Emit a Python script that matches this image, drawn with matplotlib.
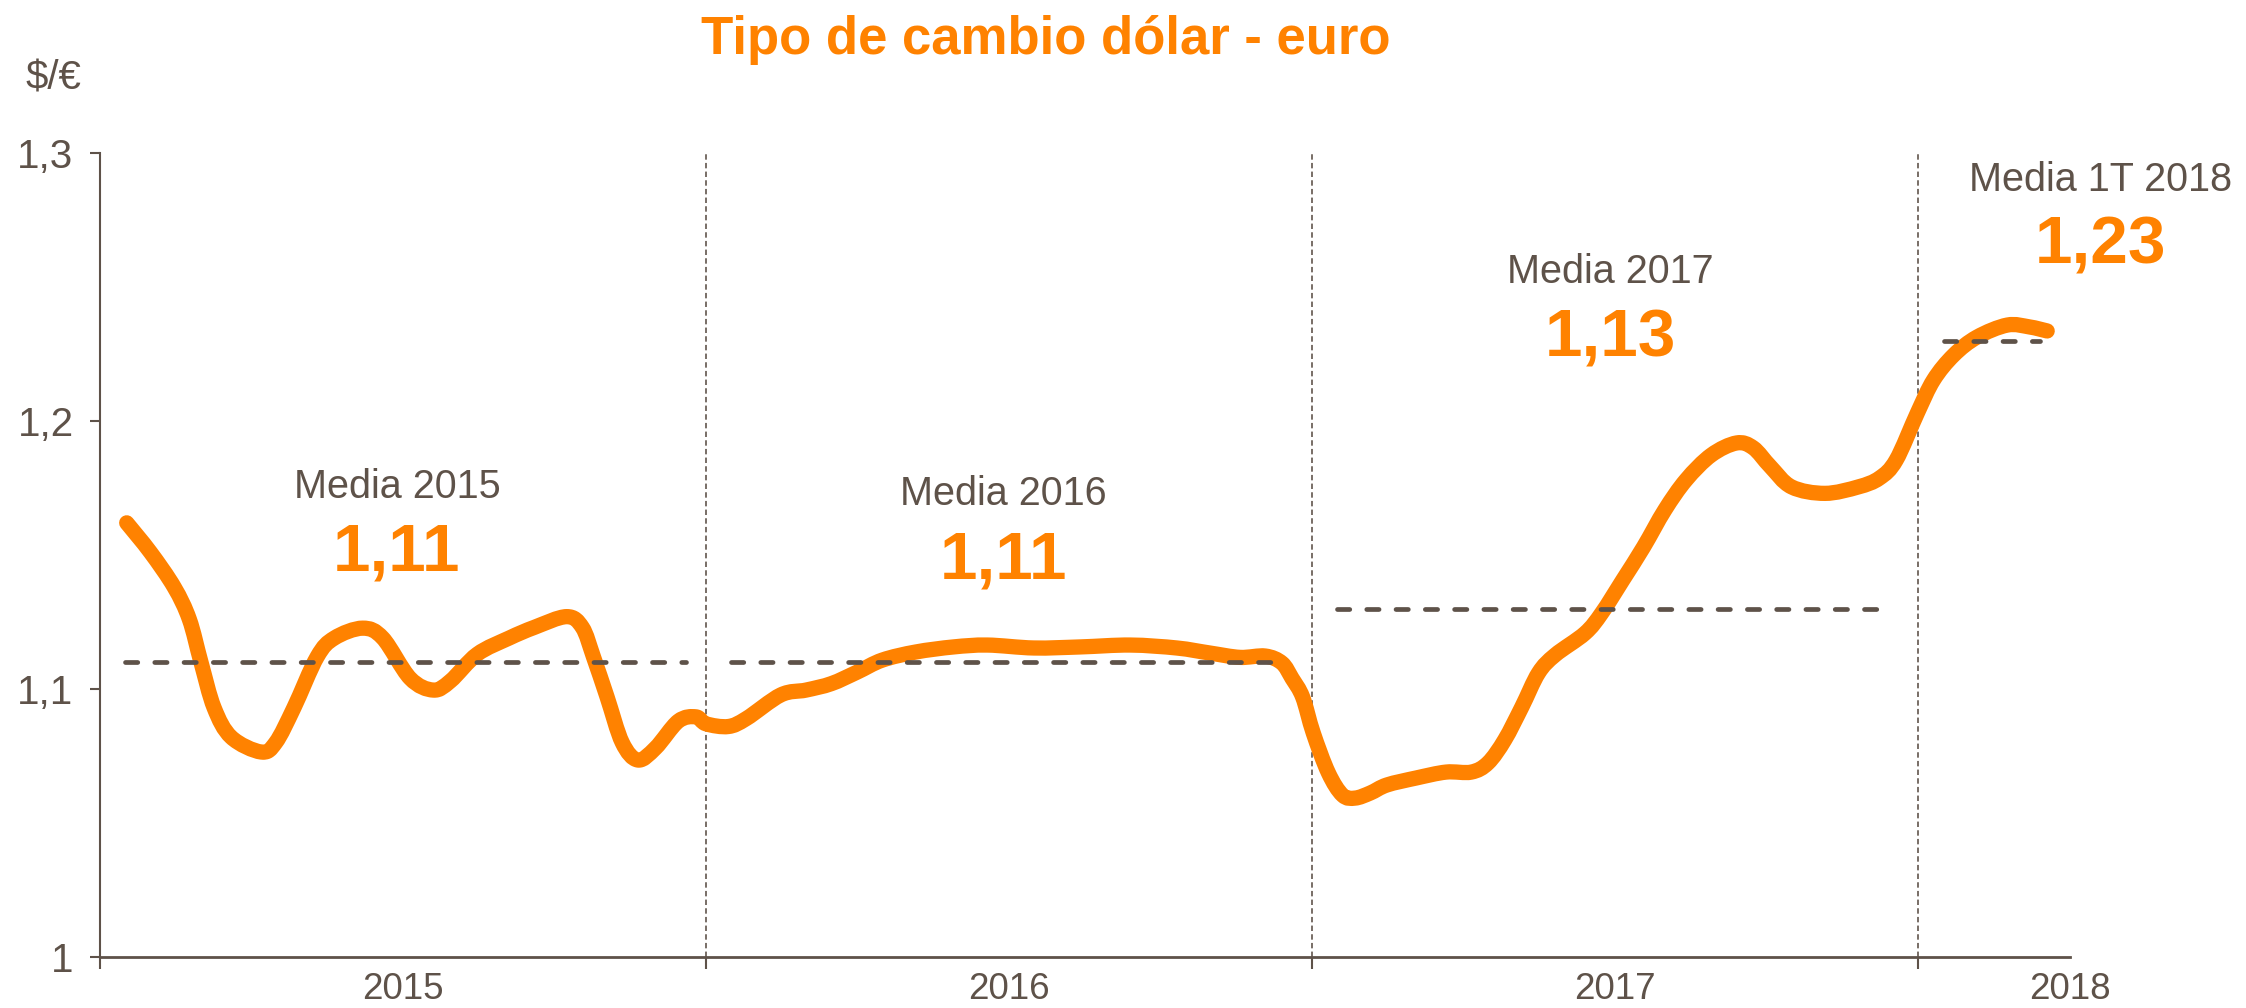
import matplotlib.pyplot as plt
from matplotlib.path import Path
from matplotlib.patches import PathPatch

# dollar-euro exchange rate, x in months since Jan 2015
months = [0.53, 1.0, 1.47, 1.77, 2.0, 2.26, 2.6, 3.19, 3.48, 3.84, 4.3, 4.64,
          5.2, 5.6, 6.14, 6.6, 6.94, 7.47, 8.1, 8.6, 9.24, 9.55, 9.77, 10.04,
          10.34, 10.65, 11.0, 11.45, 11.8, 12.0, 12.44, 12.8, 13.48, 13.98,
          14.48, 14.99, 15.49, 16.15, 16.9, 17.57, 18.49, 19.41, 20.4, 21.32,
          21.98, 22.57, 23.07, 23.4, 23.6, 23.81, 24.02, 24.32, 24.6, 24.85,
          25.15, 25.48, 26.06, 26.65, 27.15, 27.48, 27.81, 28.15, 28.48, 28.81,
          29.4, 29.73, 30.15, 30.56, 30.98, 31.4, 31.9, 32.4, 32.73, 33.07,
          33.49, 34.15, 34.81, 35.23, 35.56, 35.98, 36.3, 36.7, 37.16, 37.76,
          38.2, 38.55]
rate = [1.162, 1.151, 1.138, 1.126, 1.110, 1.093, 1.082, 1.0765, 1.080, 1.093,
        1.112, 1.119, 1.1227, 1.119, 1.104, 1.0996, 1.103, 1.113, 1.119, 1.123,
        1.127, 1.123, 1.112, 1.097, 1.080, 1.0735, 1.078, 1.088, 1.0896, 1.087,
        1.086, 1.089, 1.0978, 1.0996, 1.102, 1.1063, 1.1108, 1.1138, 1.1157,
        1.1164, 1.1153, 1.1157, 1.1164, 1.1153, 1.1134, 1.1118, 1.1123, 1.1097,
        1.104, 1.097, 1.0836, 1.0687, 1.0604, 1.0593, 1.0612, 1.0642, 1.0668,
        1.069, 1.069, 1.0724, 1.081, 1.0933, 1.106, 1.1127, 1.1208, 1.1283,
        1.1407, 1.153, 1.1668, 1.178, 1.1873, 1.1918, 1.19, 1.183, 1.1754,
        1.173, 1.1754, 1.1787, 1.1854, 1.203, 1.2153, 1.2246, 1.2313, 1.2358,
        1.2351, 1.2336]

# yearly averages
mean_labels = ["Media 2015", "Media 2016", "Media 2017", "Media 1T 2018"]
mean_values = [1.11, 1.11, 1.13, 1.23]
mean_texts = ["1,11", "1,11", "1,13", "1,23"]
mean_start = [0.5, 12.5, 24.5, 36.5]
mean_end = [11.6, 23.5, 35.5, 38.4]

year_labels = ["2015", "2016", "2017", "2018"]
year_pos = [6, 18, 30, 39]
year_bounds = [12, 24, 36]

ORANGE = "#FF8200"
BROWN = "#5e5249"
plt.rcParams['font.family'] = ['Liberation Sans', 'DejaVu Sans']


def smooth_path(xs, ys):
    # Catmull-Rom through the points, as cubic Bezier segments (like a
    # spreadsheet "smoothed line")
    pts = list(zip(xs, ys))
    n = len(pts)
    verts = [pts[0]]
    codes = [Path.MOVETO]
    for i in range(n - 1):
        p0 = pts[max(i - 1, 0)]
        p1 = pts[i]
        p2 = pts[i + 1]
        p3 = pts[min(i + 2, n - 1)]
        c1 = (p1[0] + (p2[0] - p0[0]) / 6, p1[1] + (p2[1] - p0[1]) / 6)
        c2 = (p2[0] - (p3[0] - p1[0]) / 6, p2[1] - (p3[1] - p1[1]) / 6)
        verts += [c1, c2, p2]
        codes += [Path.CURVE4] * 3
    return Path(verts, codes)


fig = plt.figure(figsize=(22.46, 10.08), dpi=100)
ax = fig.add_axes([0.0445, 0.0506, 0.8771, 0.7976])

ax.add_patch(PathPatch(smooth_path(months, rate), facecolor='none',
                       edgecolor=ORANGE, lw=11, capstyle='round',
                       joinstyle='round', zorder=3))

for v, a, b in zip(mean_values, mean_start, mean_end):
    ax.plot([a, b], [v, v], color=BROWN, lw=3.4, dashes=(2.6, 3.6),
            dash_capstyle='round', zorder=4)

for b in year_bounds:
    ax.axvline(b, color="#6d625a", lw=1.3, dashes=(3, 1.8), zorder=2)

# annotations above each period
lab_x = [5.88, 17.88, 29.9, 39.6]
lab_y = [1.1754, 1.1728, 1.2556, 1.2899]
num_y = [1.1505, 1.1475, 1.2303, 1.265]
for x, ly, ny, lab, txt in zip(lab_x, lab_y, num_y, mean_labels, mean_texts):
    ax.text(x, ly, lab, ha='center', va='center', fontsize=28.5, color=BROWN,
            clip_on=False)
    ax.text(x, ny, txt, ha='center', va='center', fontsize=48.5,
            fontweight='bold', color=ORANGE, clip_on=False)

ax.set_xlim(0, 39)
ax.set_ylim(1.0, 1.3)
ax.set_yticks([1.0, 1.1, 1.2, 1.3])
ax.set_yticklabels(["1", "1,1", "1,2", "1,3"])
ax.set_xticks([0] + year_bounds)
ax.set_xticklabels([])
ax.set_xticks(year_pos, minor=True)
ax.set_xticklabels(year_labels, minor=True)

ax.tick_params(axis='y', direction='out', length=7, width=1.5, color=BROWN,
               labelsize=29, labelcolor=BROWN, pad=12)
ax.tick_params(axis='x', which='major', direction='out', length=8.5,
               width=1.5, color=BROWN)
ax.tick_params(axis='x', which='minor', length=0, labelsize=26.5,
               labelcolor=BROWN, pad=11)

for s in ['top', 'right']:
    ax.spines[s].set_visible(False)
ax.spines['left'].set_color(BROWN)
ax.spines['left'].set_linewidth(1.5)
ax.spines['bottom'].set_color(BROWN)
ax.spines['bottom'].set_linewidth(2)

fig.text(1046 / 2246, 1 - 40 / 1008, "Tipo de cambio dólar - euro",
         ha='center', va='center', fontsize=38, fontweight='bold', color=ORANGE)
fig.text(53 / 2246, 1 - 79 / 1008, "$/€", ha='center', va='center',
         fontsize=29, color=BROWN)

fig.savefig("out.png", dpi=100)
